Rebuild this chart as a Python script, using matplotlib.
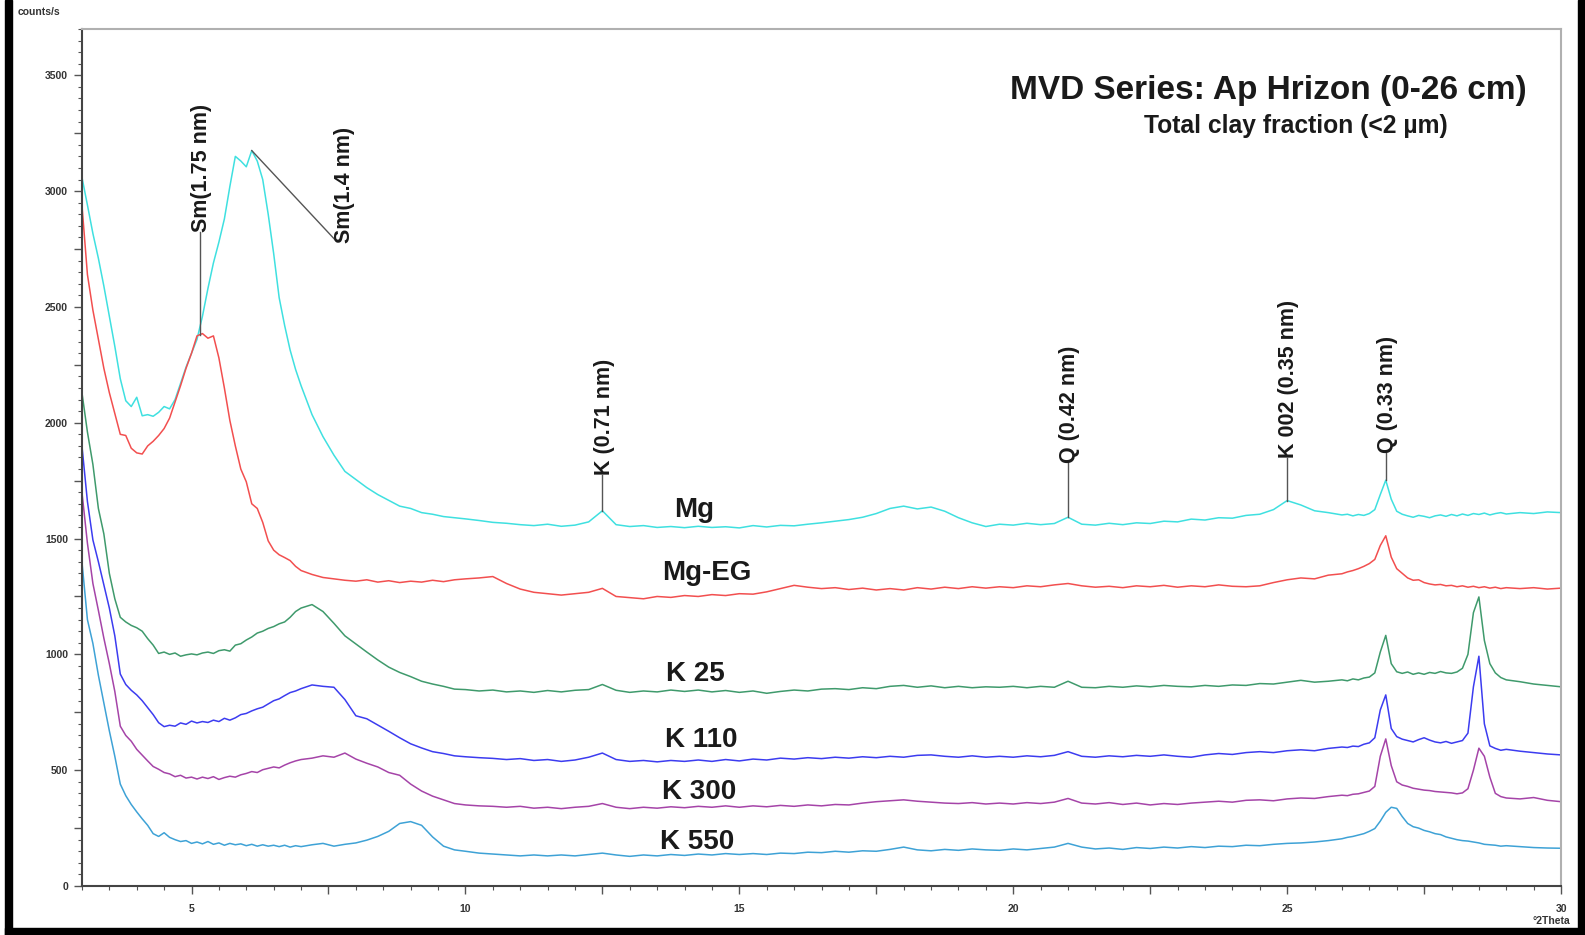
import numpy as np
import matplotlib
matplotlib.use("Agg")
import matplotlib.pyplot as plt
from matplotlib.patches import Rectangle
from matplotlib.ticker import MultipleLocator, FuncFormatter

plt.rcParams['font.family'] = ['Liberation Sans', 'DejaVu Sans']

# 2-theta sampling positions (finer where the peaks are)
theta = np.round(np.concatenate([
    np.arange(3.0, 7.01, 0.1),
    np.arange(7.2, 10.01, 0.2),
    np.arange(10.25, 26.01, 0.25),
    np.arange(26.1, 29.01, 0.1),
    np.arange(29.25, 30.01, 0.25),
]), 2)

# intensities (counts/s)
mg = [3060, 2940, 2817, 2710, 2590, 2460, 2330, 2190, 2095, 2070,
      2110, 2030, 2035, 2028, 2045, 2070, 2060, 2100, 2170, 2240,
      2300, 2360, 2460, 2580, 2690, 2780, 2880, 3020, 3150, 3130,
      3105, 3175, 3130, 3050, 2900, 2730, 2540, 2420, 2314, 2230,
      2160,
      2035, 1940, 1860, 1790, 1755, 1720, 1690, 1665, 1640, 1630, 1612, 1605, 1595, 1590, 1585,
      1578, 1570, 1566, 1560,
      1556, 1562, 1553, 1558,
      1572, 1620, 1560, 1552,
      1556, 1548, 1552, 1547,
      1553, 1548, 1551, 1546,
      1556, 1550, 1557, 1555,
      1562, 1568, 1575, 1582,
      1592, 1608, 1630, 1640,
      1628, 1636, 1618, 1590,
      1568, 1552, 1562, 1558,
      1566, 1560, 1565, 1592,
      1562, 1558, 1566, 1560,
      1568, 1565, 1575, 1572,
      1584, 1580, 1590, 1588,
      1600, 1605, 1625, 1664,
      1645, 1620, 1612, 1602,
      1605, 1598, 1604, 1600, 1608, 1625, 1690, 1752, 1670, 1618,
      1605, 1598, 1592, 1600, 1596, 1590, 1598, 1602, 1596, 1604,
      1598, 1606, 1600, 1608, 1604, 1610, 1602, 1608, 1612, 1606,
      1612, 1608, 1615, 1612]

mg_eg = [2940, 2640, 2486, 2360, 2235, 2130, 2040, 1950, 1945, 1890,
         1870, 1865, 1900, 1920, 1945, 1975, 2020, 2090, 2160, 2235,
         2300, 2375, 2385, 2365, 2375, 2280, 2150, 2010, 1900, 1800,
         1745, 1650, 1630, 1570, 1490, 1450, 1430, 1418, 1405, 1380,
         1362,
         1345, 1332, 1326, 1320, 1316, 1322, 1312, 1318, 1310, 1316, 1312, 1320, 1314, 1322, 1326,
         1330, 1336, 1306, 1282,
         1268, 1262, 1256, 1262,
         1268, 1285, 1250, 1245,
         1240, 1250, 1246, 1254,
         1250, 1258, 1254, 1262,
         1260, 1270, 1284, 1298,
         1290, 1284, 1288, 1280,
         1286, 1278, 1284, 1278,
         1288, 1282, 1290, 1284,
         1292, 1286, 1292, 1288,
         1296, 1292, 1300, 1306,
         1296, 1290, 1294, 1288,
         1296, 1292, 1298, 1290,
         1296, 1292, 1300, 1294,
         1292, 1296, 1310, 1322,
         1330, 1326, 1342, 1348,
         1356, 1362, 1370, 1380, 1392, 1410, 1470, 1512, 1420, 1370,
         1350, 1330, 1320, 1322, 1310, 1304, 1300, 1302, 1296, 1298,
         1292, 1296, 1290, 1294, 1288, 1292, 1286, 1290, 1284, 1288,
         1284, 1288, 1282, 1286]

k25 = [2130, 1960, 1820, 1630, 1520, 1350, 1240, 1160, 1140, 1125,
       1115, 1100, 1068, 1040, 1004, 1010, 1000, 1006, 992, 998,
       1002, 998, 1006, 1010, 1004, 1016, 1020, 1014, 1040, 1046,
       1062, 1075, 1092, 1100, 1112, 1120, 1132, 1140, 1160, 1185,
       1200,
       1215, 1185, 1134, 1080, 1045, 1010, 976, 945, 922, 904, 884, 872, 862, 850, 848,
       842, 846, 838, 842,
       836, 844, 838, 845,
       848, 870, 845, 836,
       842, 838, 846, 840,
       846, 838, 844, 836,
       842, 832, 840, 846,
       842, 850, 852, 848,
       856, 852, 862, 866,
       858, 864, 856, 862,
       856, 860, 858, 862,
       856, 862, 858, 884,
       858, 856, 862, 858,
       864, 860, 866, 862,
       860, 866, 862, 868,
       866, 874, 872, 880,
       888, 880, 884, 890,
       886, 894, 890, 898, 902, 920, 1010, 1082, 960, 925,
       918, 924, 914, 920, 914, 922, 918, 926, 920, 918,
       924, 940, 1000, 1180, 1248, 1060, 960, 920, 900, 890,
       882, 872, 866, 860]

k110 = [1900, 1660, 1494, 1400, 1300, 1200, 1080, 915, 870, 845,
        825, 800, 770, 740, 705, 688, 694, 690, 704, 698,
        712, 704, 710, 706, 716, 710, 724, 716, 726, 740,
        745, 756, 765, 772, 786, 800, 808, 822, 835, 842,
        852,
        868, 862, 858, 805, 735, 722, 695, 668, 640, 614, 596, 580, 572, 562, 558,
        554, 551, 546, 550,
        542, 546, 538, 544,
        556, 574, 546, 538,
        542, 536, 542, 538,
        544, 538, 546, 540,
        548, 544, 552, 548,
        554, 550, 556, 552,
        558, 554, 560, 556,
        564, 566, 560, 556,
        562, 556, 560, 556,
        562, 558, 564, 580,
        560, 556, 562, 558,
        564, 560, 566, 560,
        556, 566, 572, 568,
        576, 580, 576, 584,
        588, 584, 594, 600,
        598, 604, 602, 612, 618, 640, 760, 825, 680, 645,
        634, 628, 622, 632, 640, 630, 622, 618, 624, 616,
        622, 628, 660, 860, 992, 700, 605, 594, 586, 590,
        582, 576, 570, 566]

k300 = [1700, 1480, 1306, 1190, 1070, 960, 840, 690, 650, 625,
        590, 565, 540, 516, 504, 490, 484, 472, 478, 466,
        470, 462, 470, 464, 472, 460, 468, 474, 470, 480,
        486, 494, 490, 502, 508, 514, 510, 522, 532, 540,
        546,
        552, 562, 556, 574, 548, 530, 514, 490, 478, 440, 410, 388, 372, 356, 350,
        346, 344, 340, 344,
        336, 340, 334, 340,
        344, 356, 340, 334,
        340, 336, 342, 338,
        344, 340, 346, 340,
        346, 342, 348, 344,
        350, 346, 352, 350,
        358, 364, 368, 372,
        366, 362, 358, 356,
        360, 354, 358, 354,
        360, 356, 362, 378,
        358, 354, 360, 352,
        358, 350, 356, 352,
        358, 362, 366, 362,
        370, 372, 368, 376,
        380, 378, 386, 392,
        390, 396, 398, 404, 410, 430, 560, 635, 520, 450,
        436, 430, 422, 418, 414, 412, 408, 406, 404, 402,
        398, 402, 420, 500, 595, 560, 470, 400, 386, 380,
        376, 382, 370, 364]

k550 = [1400, 1150, 1047, 910, 790, 670, 560, 440, 390, 352,
        320, 290, 262, 226, 214, 230, 210, 200, 192, 196,
        184, 190, 182, 192, 180, 186, 176, 184, 178, 182,
        174, 180, 172, 178, 172, 176, 170, 176, 168, 174,
        170,
        178, 184, 172, 180, 186, 198, 214, 236, 270, 278, 262, 212, 172, 156, 150,
        142, 138, 134, 130,
        134, 130, 134, 130,
        136, 142, 134, 128,
        134, 130, 136, 132,
        138, 134, 140, 136,
        140, 136, 142, 140,
        146, 144, 150, 146,
        152, 150, 158, 168,
        156, 152, 158, 154,
        160, 156, 154, 160,
        156, 162, 168, 184,
        168, 160, 164, 158,
        166, 162, 168, 164,
        170, 166, 172, 170,
        176, 174, 180, 184,
        186, 190, 196, 204,
        210, 214, 220, 226, 236, 248, 280, 318, 340, 335,
        300, 270, 256, 250, 240, 234, 226, 222, 212, 206,
        200, 196, 194, 190, 186, 180, 178, 176, 172, 174,
        170, 166, 164, 163]

series = [mg, mg_eg, k25, k110, k300, k550]
names = ["Mg", "Mg-EG", "K 25", "K 110", "K 300", "K 550"]
colors = ["#3fe0e0", "#f24f4f", "#3f9a6c", "#3c3cf0", "#a544a8", "#3ea2d6"]
name_x = [14.17, 14.4, 14.2, 14.3, 14.26, 14.23]
name_y = [1623, 1351, 915, 630, 406, 190]

# peak labels: text, 2theta, series it points to, bottom of text (counts/s)
peak_text = ["Sm(1.75 nm)", "K (0.71 nm)", "Q (0.42 nm)", "K 002 (0.35 nm)", "Q (0.33 nm)"]
peak_theta = [5.15, 12.5, 21.0, 25.0, 26.8]
peak_series = [1, 0, 0, 0, 0]
peak_text_y = [2823, 1774, 1826, 1847, 1869]

fig = plt.figure(figsize=(15.85, 9.35), dpi=100)
ax = fig.add_axes([0.0517, 0.0524, 0.9332, 0.9166])

for ys, c in zip(series, colors):
    ax.plot(theta, ys, color=c, lw=1.1)

for nm, xx, yy in zip(names, name_x, name_y):
    ax.text(xx, yy, nm, ha='center', va='center', fontsize=20, fontweight='bold', color='#1a1a1a')

for txt, th, si, ty in zip(peak_text, peak_theta, peak_series, peak_text_y):
    py = np.interp(th, theta, series[si])
    ax.plot([th, th], [py, ty], color='#555555', lw=1.0)
    ax.text(th + 0.03, ty, txt, rotation=90, ha='center', va='bottom',
            fontsize=15.5, fontweight='bold', color='#1a1a1a')

# Sm(1.4 nm) has a slanted leader to the right
py = np.interp(6.1, theta, mg)
ax.plot([6.1, 7.62], [py, 2790], color='#555555', lw=1.0)
ax.text(7.8, 2775, "Sm(1.4 nm)", rotation=90, ha='center', va='bottom',
        fontsize=15.5, fontweight='bold', color='#1a1a1a')

ax.set_xlim(3, 30)
ax.set_ylim(0, 3700)
ax.xaxis.set_major_locator(MultipleLocator(2.5))
ax.xaxis.set_minor_locator(MultipleLocator(0.5))
ax.yaxis.set_major_locator(MultipleLocator(250))
ax.yaxis.set_minor_locator(MultipleLocator(50))
ax.xaxis.set_major_formatter(FuncFormatter(lambda v, p: f"{v:.0f}" if abs(v % 5) < 1e-6 else ""))
ax.yaxis.set_major_formatter(FuncFormatter(lambda v, p: f"{v:.0f}" if abs(v % 500) < 1e-6 else ""))
ax.tick_params(which='major', direction='out', length=6, width=1, color='#555555',
               labelsize=7.5, labelcolor='#333333', pad=4)
ax.tick_params(which='minor', direction='out', length=3, width=0.8, color='#555555')
for lab in ax.get_xticklabels() + ax.get_yticklabels():
    lab.set_fontweight('bold')
ax.tick_params(axis='x', pad=7)

for s in ['left', 'bottom']:
    ax.spines[s].set_color('#444444')
    ax.spines[s].set_linewidth(1.5)
for s in ['top', 'right']:
    ax.spines[s].set_color('#b0b0b0')
    ax.spines[s].set_linewidth(1.5)

fig.text(1527 / 1585, 1 - 91 / 935, "MVD Series: Ap Hrizon (0-26 cm)", ha='right', va='center',
         fontsize=24, fontweight='bold', color='#1a1a1a')
fig.text(1448 / 1585, 1 - 126 / 935, "Total clay fraction (<2 µm)", ha='right', va='center',
         fontsize=17.7, fontweight='bold', color='#1a1a1a')
fig.text(18 / 1585, 1 - 12 / 935, "counts/s", ha='left', va='center', fontsize=7.5,
         fontweight='bold', color='#333333')
fig.text(1570 / 1585, 1 - 921 / 935, "°2Theta", ha='right', va='center', fontsize=7.5,
         fontweight='bold', color='#333333')

# black frame on left, right and bottom edges of the picture
fig.patches.append(Rectangle((5 / 1585, 0), 7 / 1585, 1, transform=fig.transFigure, color='black'))
fig.patches.append(Rectangle((1578 / 1585, 0), 7 / 1585, 1, transform=fig.transFigure, color='black'))
fig.patches.append(Rectangle((5 / 1585, 0), 1, 7 / 935, transform=fig.transFigure, color='black'))

fig.savefig("out.png", dpi=100)
